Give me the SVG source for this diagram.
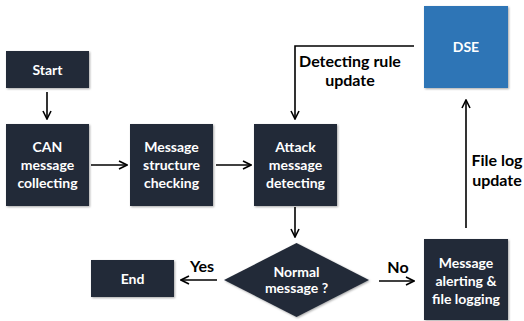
<svg xmlns="http://www.w3.org/2000/svg" width="524" height="321" viewBox="0 0 524 321">
<defs>
<marker id="ah" markerWidth="10" markerHeight="10" refX="9" refY="5" orient="auto" markerUnits="userSpaceOnUse">
<path d="M1,1 L9,5 L1,9" fill="none" stroke="#000" stroke-width="1.6"/>
</marker>
<filter id="sh" x="-10%" y="-10%" width="130%" height="130%">
<feDropShadow dx="1" dy="1" stdDeviation="0.8" flood-color="#000" flood-opacity="0.35"/>
</filter>
</defs>
<style>
.box{fill:#232b38;filter:url(#sh)}
.dse{fill:#2e75b6;filter:url(#sh)}
.t{font-family:Lato,"Open Sans","Liberation Sans",sans-serif;font-weight:bold;font-size:14px;fill:#fff;text-anchor:middle}
.l{font-family:Lato,"Open Sans","Liberation Sans",sans-serif;font-weight:bold;font-size:16px;fill:#000;text-anchor:middle}
.c{fill:none;stroke:#000;stroke-width:1.6;marker-end:url(#ah)}
</style>
<rect width="524" height="321" fill="#fff"/>
<g id="start"><rect class="box" x="6" y="51" width="83" height="37"/><text class="t" x="47.5" y="75">Start</text></g>
<g id="can"><rect class="box" x="6" y="124" width="83" height="82"/><text class="t" x="47.5" y="152">CAN</text><text class="t" x="47.5" y="170">message</text><text class="t" x="47.5" y="188">collecting</text></g>
<g id="struct"><rect class="box" x="130" y="124" width="83" height="82"/><text class="t" x="171.5" y="152">Message</text><text class="t" x="171.5" y="170">structure</text><text class="t" x="171.5" y="188">checking</text></g>
<g id="attack"><rect class="box" x="254" y="124" width="83" height="82"/><text class="t" x="295.5" y="152">Attack</text><text class="t" x="295.5" y="170">message</text><text class="t" x="295.5" y="188">detecting</text></g>
<g id="dse"><rect class="dse" x="424" y="6" width="84" height="82"/><text class="t" x="466" y="52">DSE</text></g>
<g id="normal"><polygon class="box" points="296.5,243 369,280 296.5,317 224,280"/><text class="t" x="296.5" y="277">Normal</text><text class="t" x="296.5" y="293">message ?</text></g>
<g id="end"><rect class="box" x="91" y="260" width="83" height="37"/><text class="t" x="132.5" y="284">End</text></g>
<g id="alert"><rect class="box" x="424" y="239" width="84" height="81"/><text class="t" x="466" y="268">Message</text><text class="t" x="466" y="286">alerting &amp;</text><text class="t" x="466" y="304">file logging</text></g>
<g id="connectors">
<line class="c" x1="47" y1="92" x2="47" y2="119"/>
<line class="c" x1="91" y1="165" x2="127" y2="165"/>
<line class="c" x1="216" y1="165" x2="251" y2="165"/>
<line class="c" x1="295" y1="207" x2="295" y2="237"/>
<line class="c" x1="217" y1="280" x2="181" y2="280"/>
<line class="c" x1="379" y1="281" x2="414" y2="281"/>
<line class="c" x1="466" y1="228" x2="466" y2="100"/>
<polyline class="c" points="414,46 295,46 295,119"/>
<text class="l" x="350" y="67">Detecting rule</text>
<text class="l" x="350" y="86">update</text>
<text class="l" x="497" y="166">File log</text>
<text class="l" x="497" y="186">update</text>
<text class="l" x="202" y="272">Yes</text>
<text class="l" x="398" y="273">No</text>
</g>
</svg>
